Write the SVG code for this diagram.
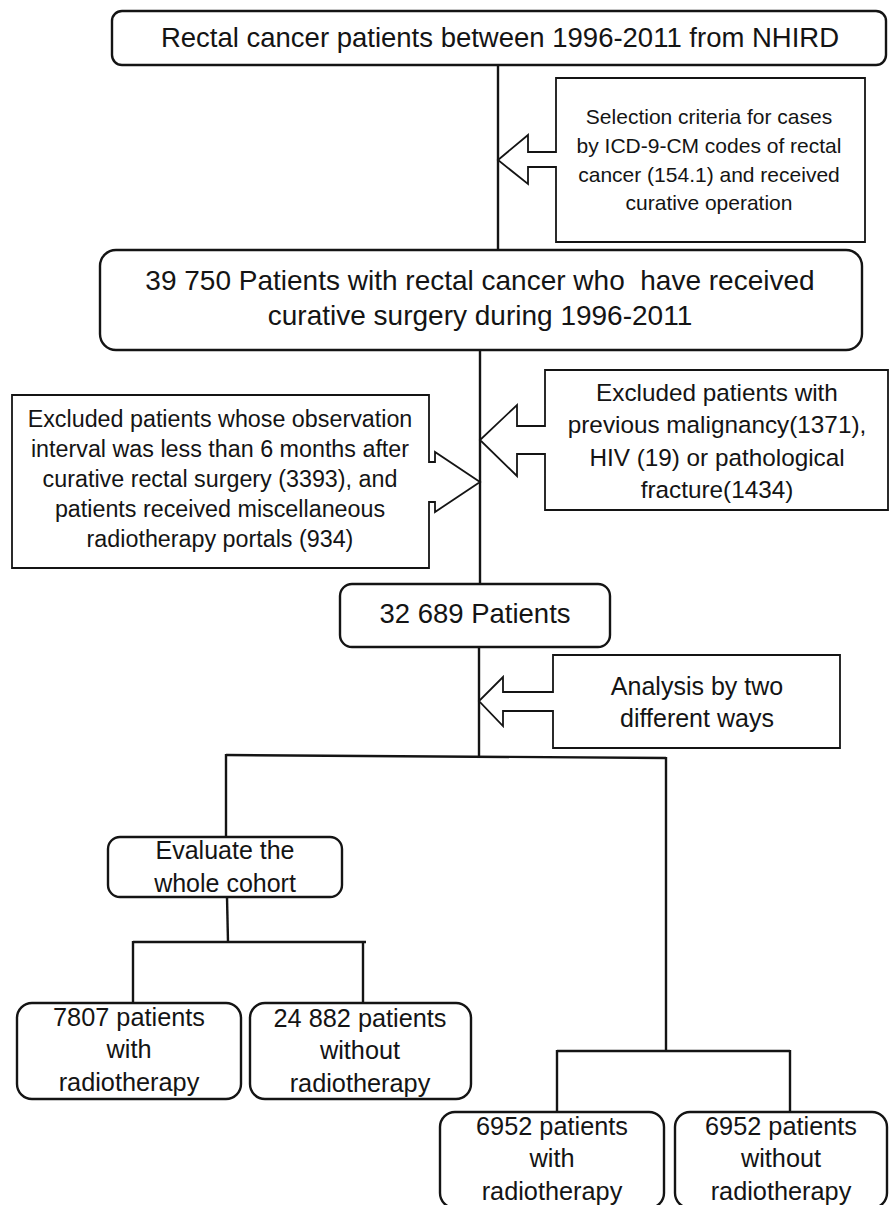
<svg xmlns="http://www.w3.org/2000/svg" width="889" height="1205" viewBox="0 0 889 1205">
<style>
text{font-family:"Liberation Sans",Arial,sans-serif;fill:#141414;text-anchor:middle}
.rb{fill:#fff;stroke:#141414;stroke-width:2.4}
.co{fill:#fff;stroke:#141414;stroke-width:1.8;stroke-linejoin:miter}
.ln{fill:none;stroke:#141414;stroke-width:2.4}
</style>
<rect width="889" height="1205" fill="#fff"/>
<g id="connectors">
<line class="ln" x1="498" y1="65" x2="498" y2="250"/>
<line class="ln" x1="480" y1="350" x2="480" y2="584"/>
<line class="ln" x1="479" y1="647" x2="479" y2="757"/>
<polyline class="ln" points="226,755 666,758"/>
<line class="ln" x1="226" y1="754" x2="226" y2="837"/>
<line class="ln" x1="227" y1="897" x2="228" y2="942"/>
<line class="ln" x1="133" y1="942" x2="366" y2="942"/>
<line class="ln" x1="133" y1="941" x2="133" y2="1003"/>
<line class="ln" x1="363" y1="941" x2="363" y2="1003"/>
<line class="ln" x1="666" y1="757" x2="666" y2="1051"/>
<line class="ln" x1="557" y1="1051" x2="790" y2="1051"/>
<line class="ln" x1="557" y1="1050" x2="557" y2="1112"/>
<line class="ln" x1="790" y1="1050" x2="790" y2="1112"/>
</g>
<g id="n-source">
<rect class="rb" x="112" y="11" width="774" height="54" rx="10"/>
<text x="500" y="47" font-size="27.5">Rectal cancer patients between 1996-2011 from NHIRD</text>
</g>
<g id="c-selection">
<path class="co" d="M556,78 H865 V242 H556 V167 H528 V184 L498,160 L528,135 V152 H556 Z"/>
<text font-size="21"><tspan x="709" y="124">Selection criteria for cases</tspan><tspan x="709" y="153">by ICD-9-CM codes of rectal</tspan><tspan x="709" y="182">cancer (154.1) and received</tspan><tspan x="709" y="210">curative operation</tspan></text>
</g>
<g id="n-surgery">
<rect class="rb" x="100" y="250" width="762" height="100" rx="16"/>
<text font-size="28" style="white-space:pre"><tspan x="480" y="290">39 750 Patients with rectal cancer who  have received</tspan><tspan x="480" y="325">curative surgery during 1996-2011</tspan></text>
</g>
<g id="c-excl-left">
<path class="co" d="M12,395 H429 V462 H435 V452 L480,482 L435,512 V502 H429 V568 H12 Z"/>
<text font-size="23.3"><tspan x="220" y="427">Excluded patients whose observation</tspan><tspan x="220" y="457">interval was less than 6 months after</tspan><tspan x="220" y="487">curative rectal surgery (3393), and</tspan><tspan x="220" y="517">patients received miscellaneous</tspan><tspan x="220" y="547">radiotherapy portals (934)</tspan></text>
</g>
<g id="c-excl-right">
<path class="co" d="M545,370 H888 V510 H545 V454 H517 V476 L480,440 L517,405 V426 H545 Z"/>
<text font-size="24.3"><tspan x="717" y="401">Excluded patients with</tspan><tspan x="717" y="433">previous malignancy(1371),</tspan><tspan x="717" y="466">HIV (19) or pathological</tspan><tspan x="717" y="498">fracture(1434)</tspan></text>
</g>
<g id="n-cohort">
<rect class="rb" x="340" y="584" width="270" height="63" rx="12"/>
<text x="475" y="623" font-size="27.5">32 689 Patients</text>
</g>
<g id="c-analysis">
<path class="co" d="M553,655 H840 V748 H553 V711 H503 V726 L479,701 L503,677 V692 H553 Z"/>
<text font-size="25"><tspan x="697" y="695">Analysis by two</tspan><tspan x="697" y="727">different ways</tspan></text>
</g>
<g id="n-evaluate">
<rect class="rb" x="108" y="837" width="234" height="60" rx="12"/>
<text font-size="25"><tspan x="225" y="859">Evaluate the</tspan><tspan x="225" y="892">whole cohort</tspan></text>
</g>
<g id="n-whole-rt">
<rect class="rb" x="17" y="1003" width="224" height="96" rx="15"/>
<text font-size="25.3"><tspan x="129" y="1026">7807 patients</tspan><tspan x="129" y="1058">with</tspan><tspan x="129" y="1091">radiotherapy</tspan></text>
</g>
<g id="n-whole-nort">
<rect class="rb" x="250" y="1003" width="221" height="96" rx="15"/>
<text font-size="25.3"><tspan x="360" y="1027">24 882 patients</tspan><tspan x="360" y="1059">without</tspan><tspan x="360" y="1092">radiotherapy</tspan></text>
</g>
<g id="n-match-rt">
<rect class="rb" x="440" y="1112" width="224" height="96" rx="15"/>
<text font-size="25.3"><tspan x="552" y="1135">6952 patients</tspan><tspan x="552" y="1167">with</tspan><tspan x="552" y="1200">radiotherapy</tspan></text>
</g>
<g id="n-match-nort">
<rect class="rb" x="675" y="1112" width="212" height="96" rx="15"/>
<text font-size="25.3"><tspan x="781" y="1135">6952 patients</tspan><tspan x="781" y="1167">without</tspan><tspan x="781" y="1200">radiotherapy</tspan></text>
</g>
</svg>
